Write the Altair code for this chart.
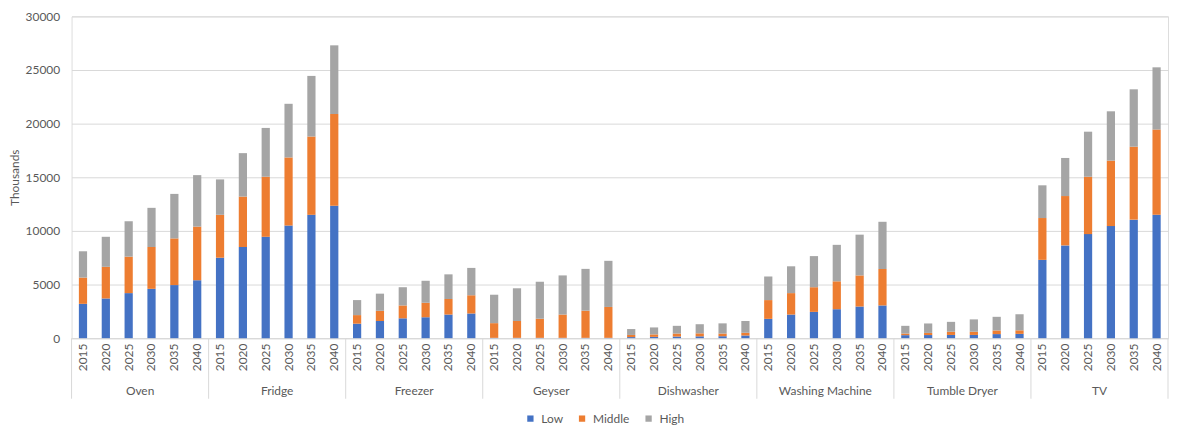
import altair as alt
import pandas as pd

categories = ["Oven", "Fridge", "Freezer", "Geyser", "Dishwasher",
              "Washing Machine", "Tumble Dryer", "TV"]
years = ["2015", "2020", "2025", "2030", "2035", "2040"]
series = ["Low", "Middle", "High"]
colors = ["#4472C4", "#ED7D31", "#A5A5A5"]

low = [
    3200, 3700, 4200, 4600, 4950, 5400,
    7500, 8500, 9450, 10500, 11500, 12350,
    1350, 1600, 1850, 1950, 2200, 2300,
    30, 30, 30, 30, 30, 30,
    100, 120, 150, 170, 180, 250,
    1800, 2200, 2450, 2700, 2950, 3050,
    280, 290, 300, 300, 380, 400,
    7300, 8650, 9700, 10450, 11050, 11500,
]
middle = [
    2450, 2950, 3400, 3900, 4350, 5000,
    4000, 4700, 5600, 6350, 7300, 8550,
    800, 950, 1200, 1350, 1450, 1700,
    1370, 1570, 1780, 2170, 2530, 2880,
    200, 230, 280, 280, 250, 250,
    1750, 2000, 2300, 2600, 2900, 3400,
    150, 200, 300, 300, 340, 330,
    3900, 4600, 5350, 6100, 6800, 7950,
]
high = [
    2450, 2800, 3300, 3650, 4150, 4800,
    3300, 4050, 4550, 5000, 5650, 6400,
    1400, 1600, 1700, 2050, 2300, 2550,
    2650, 3050, 3450, 3650, 3900, 4300,
    550, 650, 720, 850, 950, 1100,
    2200, 2500, 2900, 3400, 3800, 4400,
    720, 880, 920, 1150, 1270, 1500,
    3050, 3550, 4200, 4600, 5350, 5800,
]

W = 1104
H = 324
FONT = "Lato"
TXT = "#595959"
GRID = "#D9D9D9"

rows = []
keys = []
for ci, c in enumerate(categories):
    for yi, y in enumerate(years):
        k = f"{c}|{y}"
        keys.append(k)
        i = ci * len(years) + yi
        for si, (s, vals) in enumerate(zip(series, [low, middle, high])):
            rows.append({"key": k, "category": c, "year": y,
                         "series": s, "order": si, "value": vals[i]})
df = pd.DataFrame(rows)

sep_df = pd.DataFrame({"pos": list(range(len(categories) + 1))})
cat_df = pd.DataFrame({"pos": [i + 0.5 for i in range(len(categories))],
                       "category": categories})

bars = alt.Chart(df).mark_bar().encode(
    x=alt.X("key:N", sort=keys,
            scale=alt.Scale(paddingInner=0.64, paddingOuter=0.32),
            axis=alt.Axis(title=None, labelExpr="split(datum.label, '|')[1]",
                          labelAngle=-90, labelPadding=5, ticks=False,
                          domainColor=GRID, labelColor=TXT, labelFont=FONT,
                          labelFontSize=12, grid=False)),
    y=alt.Y("sum(value):Q",
            scale=alt.Scale(domain=[0, 30000], nice=False),
            axis=alt.Axis(title="Thousands", values=list(range(0, 30001, 5000)),
                          format="d", grid=True, gridColor=GRID, domain=False,
                          ticks=False, labelPadding=12, labelColor=TXT,
                          labelFont=FONT, labelFontSize=12,
                          titleFont=FONT, titleFontSize=12, titleFontWeight="normal",
                          titleColor=TXT, titleX=-57, titleY=H / 2,
                          titleAlign="center", titleBaseline="middle")),
    color=alt.Color("series:N",
                    scale=alt.Scale(domain=series, range=colors),
                    legend=alt.Legend(title=None, orient="none", direction="horizontal",
                                      legendX=456, legendY=399, symbolType="square",
                                      symbolSize=40, symbolStrokeWidth=0,
                                      labelFont=FONT, labelFontSize=12,
                                      labelColor=TXT, columnPadding=13,
                                      labelOffset=5, padding=0)),
    order=alt.Order("order:Q", sort="ascending"),
)

seps = alt.Chart(sep_df).mark_rule(color=GRID, strokeWidth=1).encode(
    x=alt.X("pos:Q", scale=alt.Scale(domain=[0, len(categories)], nice=False, zero=False),
            axis=None),
    y=alt.value(H),
    y2=alt.value(H + 61),
)

cats = alt.Chart(cat_df).mark_text(font=FONT, fontSize=12, color=TXT,
                                   align="center", baseline="middle").encode(
    x=alt.X("pos:Q", scale=alt.Scale(domain=[0, len(categories)], nice=False, zero=False),
            axis=None),
    y=alt.value(H + 53),
    text="category:N",
)

chart = alt.layer(bars, seps, cats).resolve_scale(x="independent").properties(
    width=W, height=H,
    autosize=alt.AutoSizeParams(type="none"),
    padding={"left": 64, "top": 7, "right": 1, "bottom": 86},
).configure_view(stroke=None).configure(background="white")

chart.save("out.html", embed_options={"renderer": "svg", "actions": False})
